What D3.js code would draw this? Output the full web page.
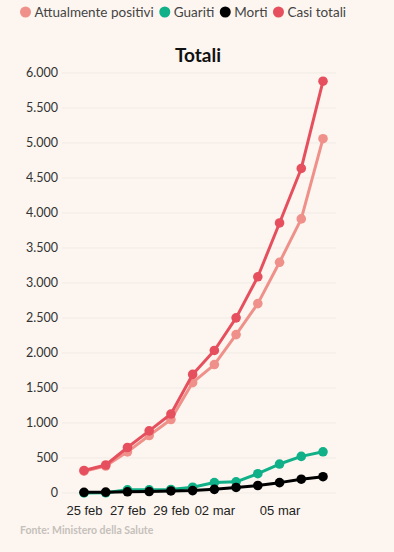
<!DOCTYPE html>
<html><head><meta charset="utf-8">
<script src="https://cdn.jsdelivr.net/npm/d3@7"></script>
<style>
html,body{margin:0;padding:0;background:#fdf6f0;}
svg{display:block;font-family:"Source Sans Pro",Lato,"Open Sans",sans-serif;}
</style></head><body>
<svg id="c" width="394" height="552"></svg>
<script>
const dates = ["2020-02-25","2020-02-26","2020-02-27","2020-02-28","2020-02-29","2020-03-01","2020-03-02","2020-03-03","2020-03-04","2020-03-05","2020-03-06","2020-03-07"];
const positivi = [311,385,588,821,1049,1577,1835,2263,2706,3296,3916,5061];
const guariti = [1,3,45,46,50,83,149,160,276,414,523,589];
const morti = [10,12,17,21,29,34,52,79,107,148,197,233];
const casi = [322,400,650,888,1128,1694,2036,2502,3089,3858,4636,5883];
const yTicks = [0,500,1000,1500,2000,2500,3000,3500,4000,4500,5000,5500,6000];
const xTickDates = ["2020-02-25","2020-02-27","2020-02-29","2020-03-02","2020-03-05"];
const xTickLabels = ["25 feb","27 feb","29 feb","02 mar","05 mar"];
const seriesNames = ["Attualmente positivi","Guariti","Morti","Casi totali"];
const colors = ["#ef918a","#10b088","#000000","#e6505e"];

const parse = d3.timeParse("%Y-%m-%d");
const dt = dates.map(parse);
const svg = d3.select("#c");
const x = d3.scaleTime().domain([dt[0], dt[dt.length-1]]).range([84,323]);
const y = d3.scaleLinear().domain([0,6000]).range([493,73]);
const fmt = v => d3.format(",")(v).replace(/,/g,".");

// grid
svg.append("g").selectAll("line").data(yTicks).join("line")
  .attr("x1",62).attr("x2",336).attr("y1",d=>y(d)).attr("y2",d=>y(d))
  .attr("stroke","#f1ebe5").attr("stroke-width",1);
svg.append("g").selectAll("text").data(yTicks).join("text")
  .attr("x",58).attr("y",d=>y(d)).attr("dy","0.35em").attr("text-anchor","end")
  .attr("font-size",12.5).attr("fill","#333").text(fmt);

// x axis labels
const xa = d3.axisBottom(x).tickValues(xTickDates.map(parse)).tickSize(0)
  .tickFormat((d,i)=>xTickLabels[i]);
const gx = svg.append("g").attr("transform","translate(0,500)").call(xa);
gx.select(".domain").remove();
gx.selectAll("text").attr("font-size",13).attr("fill","#222").attr("font-family","inherit").attr("dy","0.9em");

const data = [positivi,guariti,morti,casi];
const order = [0,1,2,3];
const line = d3.line().x((d,i)=>x(dt[i])).y(d=>y(d));
order.forEach(k=>{
  const g = svg.append("g");
  g.append("path").attr("d",line(data[k])).attr("fill","none")
    .attr("stroke",colors[k]).attr("stroke-width",3).attr("stroke-linejoin","round");
  g.selectAll("circle").data(data[k]).join("circle")
    .attr("cx",(d,i)=>x(dt[i])).attr("cy",d=>y(d)).attr("r",4.8).attr("fill",colors[k]);
});

// title
svg.append("text").attr("x",198).attr("y",62).attr("text-anchor","middle")
  .attr("font-size",19).attr("font-weight","bold").attr("fill","#111").text("Totali");

// legend
const leg = svg.append("g");
seriesNames.forEach((n,i)=>{
  leg.append("circle").attr("cy",12).attr("r",5.5).attr("fill",colors[i]);
});
const legText = leg.selectAll("text").data(seriesNames).join("text")
  .attr("y",12).attr("dy","0.35em").attr("font-size",13.5).attr("fill","#444").text(d=>d);
let cur = 20;
legText.each(function(d,i){
  const c = leg.selectAll("circle").nodes()[i];
  d3.select(c).attr("cx",cur+5.5);
  d3.select(this).attr("x",cur+14.5);
  cur += 14.5 + this.getComputedTextLength() + 5.5;
});

svg.append("text").attr("x",20).attr("y",530).attr("dy","0.35em").attr("font-size",10.5)
  .attr("font-weight","bold").attr("fill","#c5c0bb").text("Fonte: Ministero della Salute");
</script></body></html>
